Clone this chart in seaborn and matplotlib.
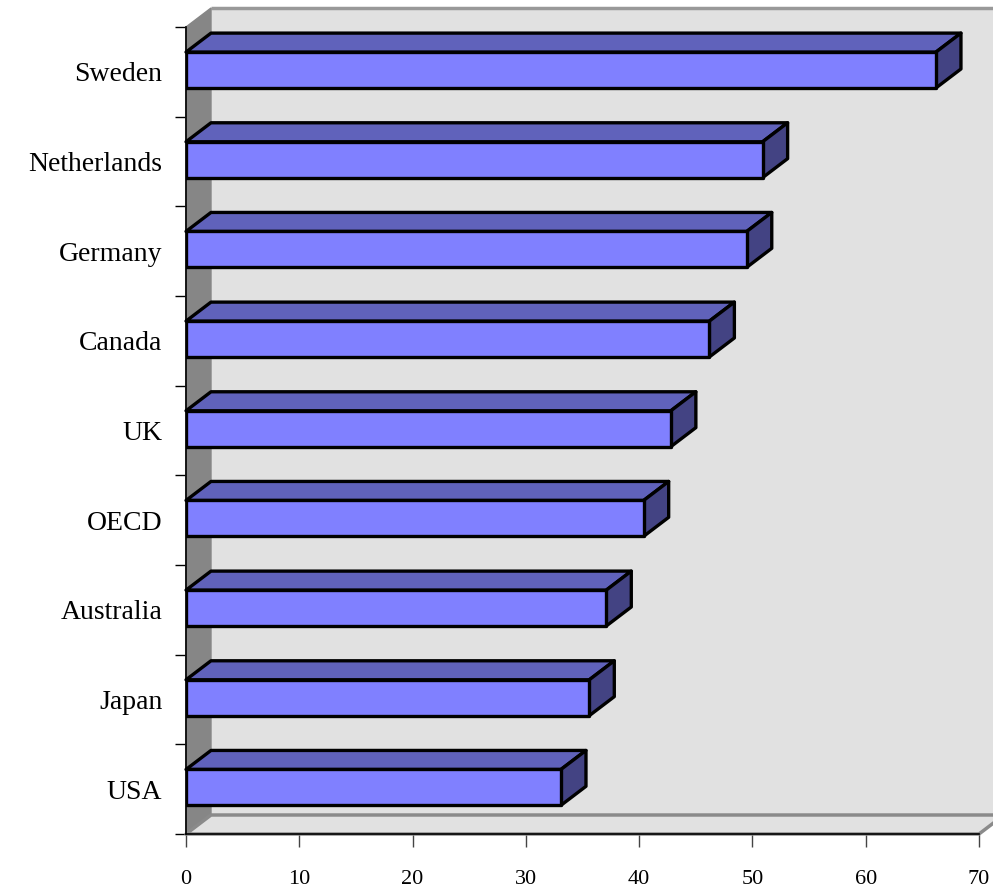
import matplotlib
matplotlib.use("Agg")
import matplotlib.pyplot as plt
from matplotlib.patches import Polygon
import seaborn as sns
import pandas as pd

countries = ["Sweden", "Netherlands", "Germany", "Canada", "UK", "OECD", "Australia", "Japan", "USA"]
values = [66.2, 50.9, 49.5, 46.2, 42.8, 40.4, 37.1, 35.6, 33.1]
xticks = [0, 10, 20, 30, 40, 50, 60, 70]

sns.set_theme(style="white")
plt.rcParams['font.family'] = ['Liberation Serif', 'DejaVu Serif']
plt.rcParams['text.color'] = 'black'
plt.rcParams['xtick.labelcolor'] = 'black'
plt.rcParams['ytick.labelcolor'] = 'black'

df = pd.DataFrame({"country": countries, "value": values})

fig = plt.figure(figsize=(9.93, 8.92), dpi=100)
ax = fig.add_axes([186 / 993, (892 - 834) / 892, (979 - 186) / 993, (834 - 27) / 892])
ax.set_facecolor("none")

FRONT = "#8080ff"
TOP = "#6062bb"
SIDE = "#434383"
LW = 2.4

sns.barplot(data=df, x="value", y="country", order=countries, orient="h",
            color=FRONT, saturation=1, width=0.4, edgecolor="black",
            linewidth=LW, ax=ax, zorder=5)

ax.set_xlim(0, 70)
ax.set_ylim(8.5, -0.5)

# depth offsets (data units)
dx = 25 / ((979 - 186) / 70)
dy = 19 / ((834 - 27) / 9)

ytop, ybot = -0.5, 8.5
# back wall
ax.add_patch(Polygon([(dx, ytop - dy), (70 + dx, ytop - dy), (70 + dx, ybot - dy), (dx, ybot - dy)],
                     closed=True, facecolor="#e1e1e1", edgecolor="none", zorder=0, clip_on=False))
ax.plot([dx, 70 + dx], [ytop - dy, ytop - dy], color="#999999", lw=2.5, zorder=0.5, clip_on=False,
        solid_capstyle="butt")
# left wall
ax.add_patch(Polygon([(0, ytop), (dx, ytop - dy), (dx, ybot - dy), (0, ybot)],
                     closed=True, facecolor="#868686", edgecolor="#868686", lw=1, zorder=0.6, clip_on=False))
# floor
ax.add_patch(Polygon([(0, ybot), (70, ybot), (70 + dx, ybot - dy), (dx, ybot - dy)],
                     closed=True, facecolor="#e1e1e1", edgecolor="#8a8a8a", lw=2.5, zorder=0.7,
                     clip_on=False, joinstyle="round"))

# 3D faces of bars
for p in list(ax.patches):
    if p.get_zorder() != 5:
        continue
    p.set_y(p.get_y() - 0.02)
    p.set_joinstyle("round")
    x0 = p.get_x()
    w = p.get_width()
    y0 = p.get_y()
    h = p.get_height()
    if w <= 0:
        continue
    x1 = x0 + w
    top_y = y0  # visually upper edge (inverted axis)
    bot_y = y0 + h
    ax.add_patch(Polygon([(x0, top_y), (x1, top_y), (x1 + dx, top_y - dy), (x0 + dx, top_y - dy)],
                         closed=True, facecolor=TOP, edgecolor="black", lw=LW, zorder=4,
                         clip_on=False, joinstyle="round"))
    ax.add_patch(Polygon([(x1, top_y), (x1 + dx, top_y - dy), (x1 + dx, bot_y - dy), (x1, bot_y)],
                         closed=True, facecolor=SIDE, edgecolor="black", lw=LW, zorder=4,
                         clip_on=False, joinstyle="round"))

for s in ["top", "right"]:
    ax.spines[s].set_visible(False)
ax.spines["left"].set_color("black")
ax.spines["left"].set_linewidth(1.2)
ax.spines["left"].set_zorder(1)
ax.spines["bottom"].set_color("black")
ax.spines["bottom"].set_linewidth(1.2)

ax.set_xticks(xticks)
ax.set_xticklabels([str(t) for t in xticks], fontsize=16)
ax.tick_params(axis="x", direction="out", length=9, width=1, color="#444444", pad=17, bottom=True)

ax.set_yticks(range(len(countries)))
ax.set_yticklabels(countries, fontsize=20)
ax.set_yticks([i - 0.5 for i in range(len(countries) + 1)], minor=True)
ax.tick_params(axis="y", which="major", length=0, pad=17, left=True)
ax.tick_params(axis="y", which="minor", length=8, width=1, color="black", left=True)

ax.set_xlabel("")
ax.set_ylabel("")
ax.grid(False)

fig.savefig("out.png", dpi=100)
